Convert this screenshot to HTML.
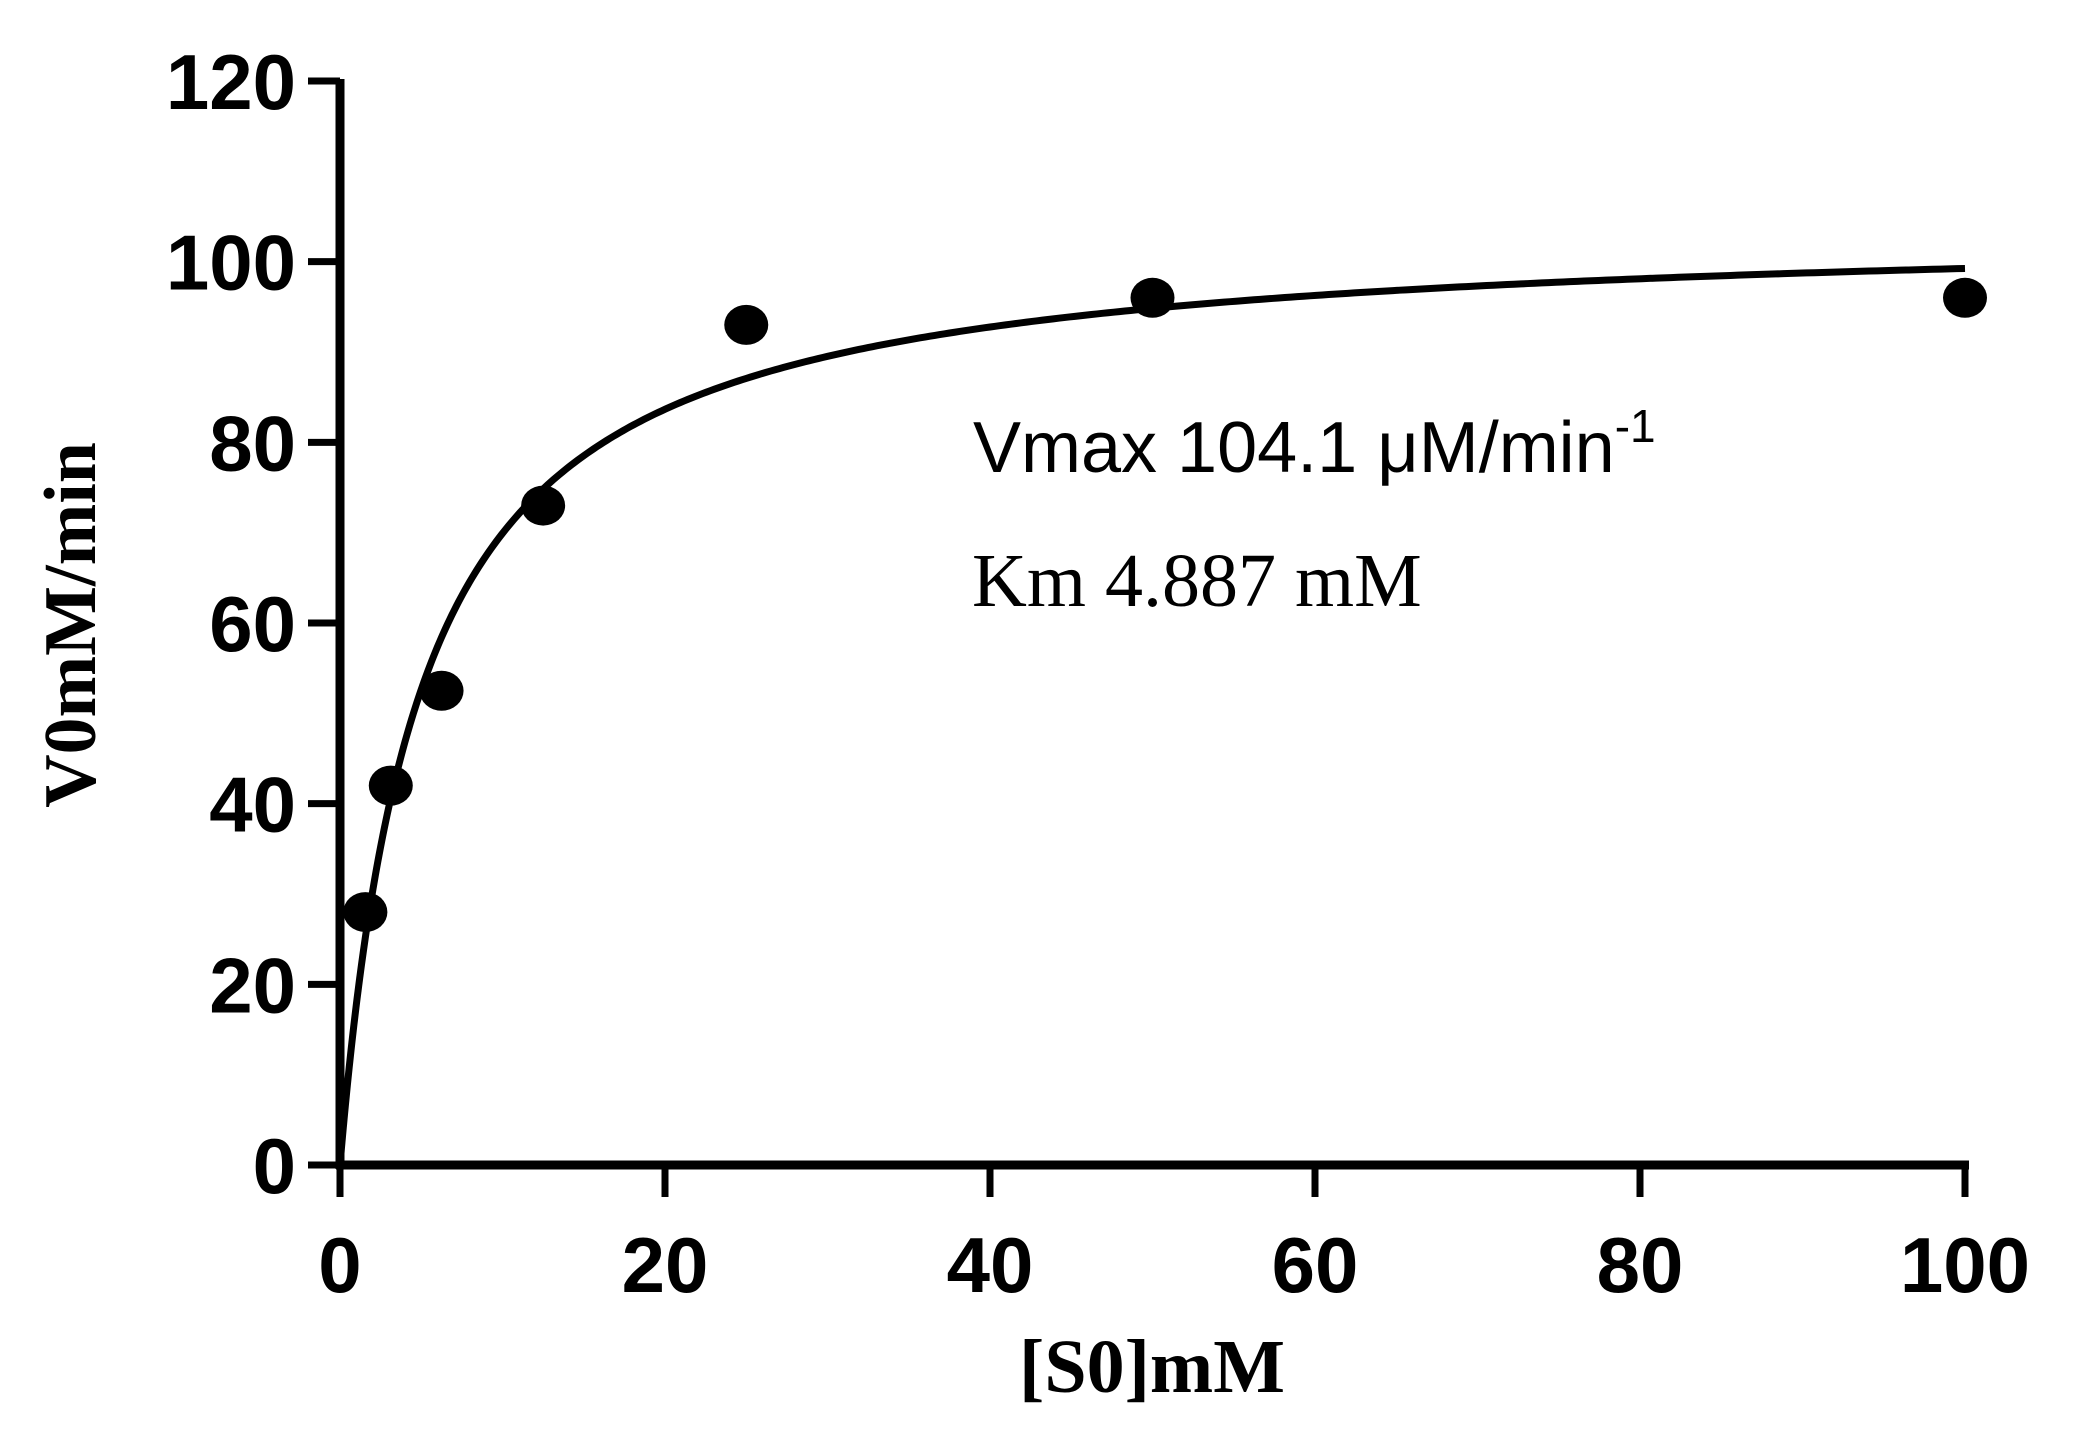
<!DOCTYPE html>
<html><head><meta charset="utf-8"><style>
html,body{margin:0;padding:0;background:#fff;}
svg{display:block;}
</style></head><body>
<svg id="chart" width="2098" height="1454" viewBox="0 0 2098 1454" xmlns="http://www.w3.org/2000/svg">
<g id="axes"></g>
<g id="plot"></g>
<text x="973" y="472" font-family="Liberation Sans, sans-serif" font-size="72">Vmax 104.1 μM/min<tspan dy="-30" font-size="46">-1</tspan></text>
<text x="972" y="606" font-family="Liberation Serif, serif" font-size="76">Km 4.887 mM</text>
<text x="1152" y="1392" text-anchor="middle" font-family="Liberation Serif, serif" font-weight="bold" font-size="76">[S0]mM</text>
<text transform="translate(95,625) rotate(-90)" text-anchor="middle" font-family="Liberation Serif, serif" font-weight="bold" font-size="74">V0mM/min</text>
</svg>
<script>
const substrate = [1.5625, 3.125, 6.25, 12.5, 25, 50, 100];
const velocity = [28, 42, 52.5, 73, 93, 96, 96];
const xTicks = [0, 20, 40, 60, 80, 100];
const yTicks = [0, 20, 40, 60, 80, 100, 120];
const vmax = 104.1;
const km = 4.887;

const X0 = 340, X1 = 1965, Y0 = 1165, Y1 = 81;
function sx(v){ return X0 + (v - 0) / 100 * (X1 - X0); }
function sy(v){ return Y0 - (v - 0) / 120 * (Y0 - Y1); }
const NS = "http://www.w3.org/2000/svg";
function mk(tag, attrs, parent){
  const e = document.createElementNS(NS, tag);
  for (const k in attrs) e.setAttribute(k, attrs[k]);
  parent.appendChild(e);
  return e;
}
const axes = document.getElementById('axes');
const plot = document.getElementById('plot');

const yAxis = mk('line', {x1:X0, y1:Y1-2, x2:X0, y2:Y0+4, stroke:'#000', 'stroke-width':9}, axes);


const xAxis = mk('line', {x1:X0-4, y1:Y0, x2:X1+4, y2:Y0, stroke:'#000', 'stroke-width':9}, axes);



yTicks.forEach(t => {
  const y = sy(t);
  const tk = mk('line', {x1:X0-32, y1:y, x2:X0, y2:y, stroke:'#000', 'stroke-width':7}, axes);
  
  
  const lb = mk('text', {x:296, y:y+28, 'text-anchor':'end', 'font-family':'Liberation Sans, sans-serif', 'font-weight':'bold', 'font-size':78}, axes);
  lb.textContent = t;
  
  
});
xTicks.forEach(t => {
  const x = sx(t);
  const tk = mk('line', {x1:x, y1:Y0, x2:x, y2:Y0+32, stroke:'#000', 'stroke-width':7}, axes);
  
  
  const lb = mk('text', {x:x, y:1292, 'text-anchor':'middle', 'font-family':'Liberation Sans, sans-serif', 'font-weight':'bold', 'font-size':78}, axes);
  lb.textContent = t;
  
  
});

let d = '';
for (let i = 0; i <= 400; i++){
  const s = 100 * Math.pow(i/400, 2);
  const v = vmax * s / (km + s);
  d += (i ? 'L' : 'M') + sx(s).toFixed(2) + ',' + sy(v).toFixed(2);
}
const curve = mk('path', {d:d, fill:'none', stroke:'#000', 'stroke-width':7}, plot);



substrate.forEach((s, i) => {
  const c = mk('ellipse', {cx:sx(s), cy:sy(velocity[i]), rx:22, ry:20, fill:'#000'}, plot);
  
  
});
</script>
</body></html>
